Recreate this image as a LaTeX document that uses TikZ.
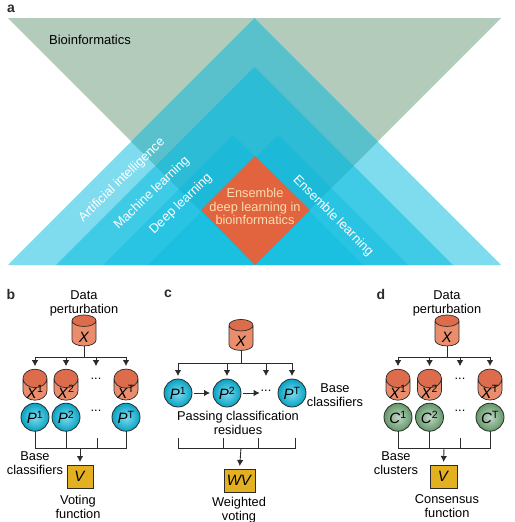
\documentclass[tikz,border=0pt]{standalone}
\usepackage{fontspec}
\setmainfont{Liberation Sans}
\usepackage{tikz}
\usetikzlibrary{arrows.meta,positioning,shapes.geometric}
\definecolor{bioc}{HTML}{B3CBBB}
\definecolor{layerc}{HTML}{00B8DE}
\definecolor{diamc}{HTML}{E1643F}
\definecolor{diamt}{HTML}{F9DDB0}
\definecolor{cylbody}{HTML}{EA8D6C}
\definecolor{cyltop}{HTML}{DC6C4B}
\definecolor{yelc}{HTML}{E3B021}
\definecolor{linec}{HTML}{2B2B2B}
\newcommand{\sym}[2]{\fontsize{15}{15}\selectfont\textit{#1}\textsuperscript{#2}}
\newcommand{\low}[1]{\raisebox{-8.5pt}[0pt][0pt]{\fontsize{15}{15}\selectfont #1}}
\newcommand{\mdl}[1]{\raisebox{-5.4pt}[0pt][0pt]{\fontsize{15}{15}\selectfont #1}}

\begin{document}
\begin{tikzpicture}[
  x=1pt,y=-1pt,
  every node/.style={font=\fontsize{12.8}{14}\selectfont,align=center,inner sep=0pt,outer sep=0pt},
  panel/.style={font=\fontsize{14}{14}\selectfont\bfseries,text=linec},
  lay/.style={fill=layerc,fill opacity=.5},
  laylow/.style={fill=layerc,fill opacity=.35},
  slant/.style={text=white,font=\fontsize{13}{14}\selectfont},
  cyl/.style={cylinder,shape border rotate=90,aspect=1.1,draw=linec,line width=.7pt,
    minimum width=24pt,minimum height=31pt,cylinder uses custom fill,
    cylinder body fill=cylbody,cylinder end fill=cyltop},
  pball/.style={circle,draw=linec,line width=.8pt,minimum size=28pt,
    inner color=layerc!50,outer color=layerc!85!linec},
  cball/.style={circle,draw=linec,line width=.8pt,minimum size=28pt,
    inner color=bioc!80!white,outer color=green!35!black!45!bioc},
  vote/.style={rectangle,draw=linec,line width=.8pt,fill=yelc,minimum height=23pt},
  arr/.style={-{Latex[length=6pt,width=6.5pt]},line width=.9pt,draw=linec,shorten >=3pt},
  bus/.style={line width=.9pt,draw=linec}]
  \useasboundingbox (0,0) rectangle (514,522);
  % panel a
  \node[panel] (la) at (11,9) {a};
  \fill[bioc] (8,18) -- (501,18) -- (254.5,265) -- cycle;
  \fill[lay] (8,265) -- (501,265) -- (254.5,18) -- cycle;
  \fill[lay] (56,265) -- (453,265) -- (254.5,67) -- cycle;
  \fill[laylow] (103,265) -- (363,265) -- (233,135) -- cycle;
  \fill[laylow] (148,265) -- (408,265) -- (278,135) -- cycle;
  \fill[diamc] (255,156) -- (310,210) -- (255,265) -- (201,210) -- cycle;
  \node[text=black,font=\fontsize{13}{14}\selectfont] (bio) at (90,40) {Bioinformatics};
  \node[slant,rotate=44] (ai) at (122,180) {Artificial intelligence};
  \node[slant,rotate=44] (ml) at (152,193) {Machine learning};
  \node[slant,rotate=44] (dl) at (181,204) {Deep learning};
  \node[slant,rotate=-45] (el) at (333,216) {Ensemble learning};
  \node[text=diamt,font=\fontsize{12.8}{13.7}\selectfont] (edl) at (255,206.5) {Ensemble\\deep learning in\\bioinformatics};
  % panel b
  \node[panel] (lb) at (11,294) {b};
  \node (datab) at (84,303) {Data\\perturbation};
  \node[cyl] (xb) at (84,333.5) {\low{\textit{X}}};
  \node[cyl] (xb1) at (35,389.5) {\low{\sym{X}{1}}};
  \node[cyl,right=7pt of xb1] (xb2) {\low{\sym{X}{2}}};
  \node[cyl] (xbt) at (126,389.5) {\low{\sym{X}{T}}};
  \node (dotsb1) at (96,379) {...};
  \node[pball,below=3pt of xb1] (pb1) {\sym{P}{1}};
  \node[pball] (pb2) at (xb2 |- pb1) {\sym{P}{2}};
  \node[pball] (pbt) at (xbt |- pb1) {\sym{P}{T}};
  \node (dotsb2) at (96,411) {...};
  \node (baseb) at (35,463) {Base\\classifiers};
  \node[vote,minimum width=26pt] (vb) at (80,476.5) {\mdl{\textit{V}}};
  \node (funb) at (78,506.5) {Voting\\function};
  \coordinate (tb) at (84,357);
  \coordinate (bb) at (80,448);
  \coordinate (kb) at (97,438);
  \draw[bus] (xb.south) -- (tb);
  \draw[arr] (tb) -| (xb1.north);
  \draw[arr] (tb) -| (xb2.north);
  \draw[arr] (tb) -| (dotsb1 |- xb1.north);
  \draw[arr] (tb) -| (xbt.north);
  \draw[bus] (pb1.south) |- (bb);
  \draw[bus] (pb2.south) |- (bb);
  \draw[bus] (kb) |- (bb);
  \draw[bus] (pbt.south) |- (bb);
  \draw[arr] (bb) -- (vb.north);
  % panel c
  \node[panel] (lc) at (168,294) {c};
  \node[cyl] (xc) at (241,338) {\low{\textit{X}}};
  \node[pball] (pc1) at (178,393) {\sym{P}{1}};
  \node[pball,right=21pt of pc1] (pc2) {\sym{P}{2}};
  \node[pball] (pct) at (292,393) {\sym{P}{T}};
  \node (dotsc) at (266,391) {...};
  \node (basec) at (335,395) {Base\\classifiers};
  \node (pass) at (238,423) {Passing classification\\residues};
  \node[vote,minimum width=31pt] (wv) at (239.5,480.5) {\mdl{\textit{WV}}};
  \node (func) at (239,510) {Weighted\\voting};
  \coordinate (tc) at (241,363);
  \coordinate (bc) at (241,448);
  \coordinate (kc1) at (223,438);
  \coordinate (kc2) at (258,438);
  \coordinate (kc3) at (178,438);
  \coordinate (kc4) at (295,438);
  \draw[bus] (xc.south) -- (tc);
  \draw[arr] (tc) -| (pc1.north);
  \draw[arr] (tc) -| (pc2.north);
  \draw[arr] (tc) -| (dotsc |- pc1.north);
  \draw[arr] (tc) -| (pct.north);
  \draw[arr,shorten <=2pt] (pc1) -- (pc2);
  \draw[arr,shorten <=2pt,shorten >=1pt] (pc2) -- (dotsc.west |- pc2);
  \draw[bus] (kc3) |- (bc);
  \draw[bus] (kc1) |- (bc);
  \draw[bus] (kc2) |- (bc);
  \draw[bus] (kc4) |- (bc);
  \draw[arr] (bc) -- (wv.north);
  % panel d
  \node[panel] (ld) at (381,294) {d};
  \node (datad) at (447,303) {Data\\perturbation};
  \node[cyl] (xd) at (447,333.5) {\low{\textit{X}}};
  \node[cyl] (xd1) at (398,389.5) {\low{\sym{X}{1}}};
  \node[cyl,right=7.5pt of xd1] (xd2) {\low{\sym{X}{2}}};
  \node[cyl] (xdt) at (490,389.5) {\low{\sym{X}{T}}};
  \node (dotsd1) at (460,379) {...};
  \node[cball,below=3pt of xd1] (cd1) {\sym{C}{1}};
  \node[cball] (cd2) at (xd2 |- cd1) {\sym{C}{2}};
  \node[cball] (cdt) at (xdt |- cd1) {\sym{C}{T}};
  \node (dotsd2) at (460,411) {...};
  \node (based) at (396,463) {Base\\clusters};
  \node[vote,minimum width=27pt] (vd) at (443.5,476.5) {\mdl{\textit{V}}};
  \node (fund) at (447,506.5) {Consensus\\function};
  \coordinate (td) at (447,357);
  \coordinate (bd) at (444,448);
  \coordinate (kd) at (460,438);
  \draw[bus] (xd.south) -- (td);
  \draw[arr] (td) -| (xd1.north);
  \draw[arr] (td) -| (xd2.north);
  \draw[arr] (td) -| (dotsd1 |- xd1.north);
  \draw[arr] (td) -| (xdt.north);
  \draw[bus] (cd1.south) |- (bd);
  \draw[bus] (cd2.south) |- (bd);
  \draw[bus] (kd) |- (bd);
  \draw[bus] (cdt.south) |- (bd);
  \draw[arr] (bd) -- (vd.north);
\end{tikzpicture}
\end{document}
